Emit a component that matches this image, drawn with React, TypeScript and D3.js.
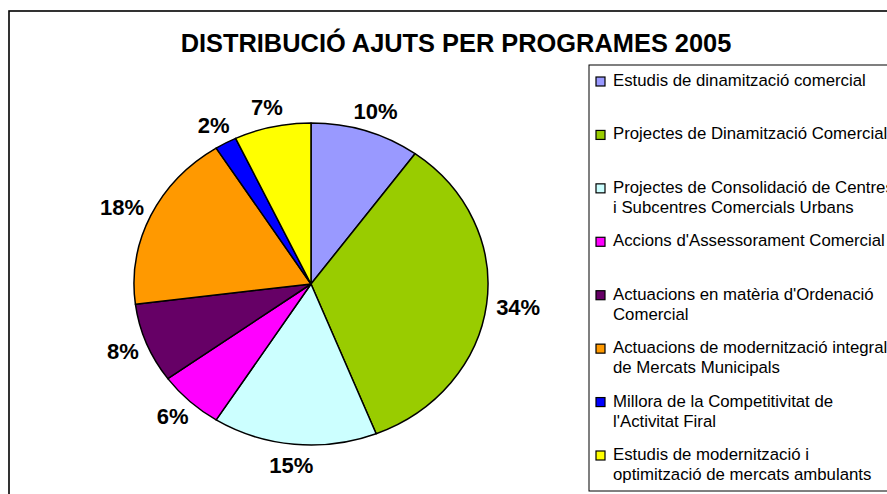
import React from "react";
import * as d3 from "d3";

const title = "DISTRIBUCIÓ AJUTS PER PROGRAMES 2005";
const categories = [
  "Estudis de dinamització comercial",
  "Projectes de Dinamització Comercial",
  "Projectes de Consolidació de Centres i Subcentres Comercials Urbans",
  "Accions d'Assessorament Comercial",
  "Actuacions en matèria d'Ordenació Comercial",
  "Actuacions de modernització integral de Mercats Municipals",
  "Millora de la Competitivitat de l'Activitat Firal",
  "Estudis de modernització i optimització de mercats ambulants",
];
const legendLines: string[][] = [
  ["Estudis de dinamització comercial"],
  ["Projectes de Dinamització Comercial"],
  ["Projectes de Consolidació de Centres", "i Subcentres Comercials Urbans"],
  ["Accions d'Assessorament Comercial"],
  ["Actuacions en matèria d'Ordenació", "Comercial"],
  ["Actuacions de modernització integral", "de Mercats Municipals"],
  ["Millora de la Competitivitat de", "l'Activitat Firal"],
  ["Estudis de modernització i", "optimització de mercats ambulants"],
];
const values = [10, 34, 15, 6, 8, 18, 2, 7];
const colors = ["#9999FF", "#99CC00", "#CCFFFF", "#FF00FF", "#660066", "#FF9900", "#0000FF", "#FFFF00"];

const W = 887;
const H = 494;
const FONT = "'Liberation Sans', Arial, sans-serif";

export default function App() {
  const cx = 311;
  const cy = 284;
  const rx = 177;
  const ry = 161;
  const pie = d3.pie<number>().sort(null).value((d) => d)(values);
  const arc = d3.arc<d3.PieArcDatum<number>>().innerRadius(0).outerRadius(rx);
  const total = d3.sum(values);
  const labelFont = 22;
  const gap = 12;

  const legendY = d3.scalePoint<number>().domain(d3.range(categories.length)).range([86, 460]);

  return (
    <svg width={W} height={H} style={{ position: "absolute", left: 0, top: 0, background: "#fff" }} fontFamily={FONT}>
      <rect x={0} y={0} width={W} height={H} fill="#fff" />
      <rect x={9} y={11} width={W + 20} height={H + 20} fill="none" stroke="#000" strokeWidth={1.6} />
      <text x={456} y={52} textAnchor="middle" fontSize={25.4} fontWeight="bold" fill="#000">
        {title}
      </text>
      <g transform={`translate(${cx},${cy}) scale(1,${ry / rx})`}>
        {pie.map((d, i) => (
          <path
            key={i}
            d={arc(d) || ""}
            fill={colors[i]}
            stroke="#000"
            strokeWidth={1.5}
            strokeLinejoin="round"
            vectorEffect="non-scaling-stroke"
          />
        ))}
      </g>
      <g transform={`translate(${cx},${cy})`}>
        {pie.map((d, i) => {
          const a = (d.startAngle + d.endAngle) / 2;
          const txt = `${Math.round((d.value / total) * 100)}%`;
          const w = txt.length * labelFont * 0.6;
          const h = labelFont * 0.72;
          const s = Math.sin(a);
          const c = Math.cos(a);
          const px = (rx + gap) * s + s * w * 0.5;
          const py = -(ry + gap) * c - c * h * 0.55;
          return (
            <text key={i} x={px} y={py + h / 2} textAnchor="middle" fontSize={labelFont} fontWeight="bold" fill="#000">
              {txt}
            </text>
          );
        })}
      </g>
      <rect x={589} y={65} width={400} height={426} fill="#fff" stroke="#000" strokeWidth={1} />
      {legendLines.map((lines, i) => {
        const y = legendY(i) as number;
        return (
          <g key={i}>
            <rect x={596} y={y - 9} width={9} height={9} fill={colors[i]} stroke="#000" strokeWidth={1.2} />
            {lines.map((l, j) => (
              <text key={j} x={613} y={y + j * 20} fontSize={16.8} fill="#000">
                {l}
              </text>
            ))}
          </g>
        );
      })}
    </svg>
  );
}
